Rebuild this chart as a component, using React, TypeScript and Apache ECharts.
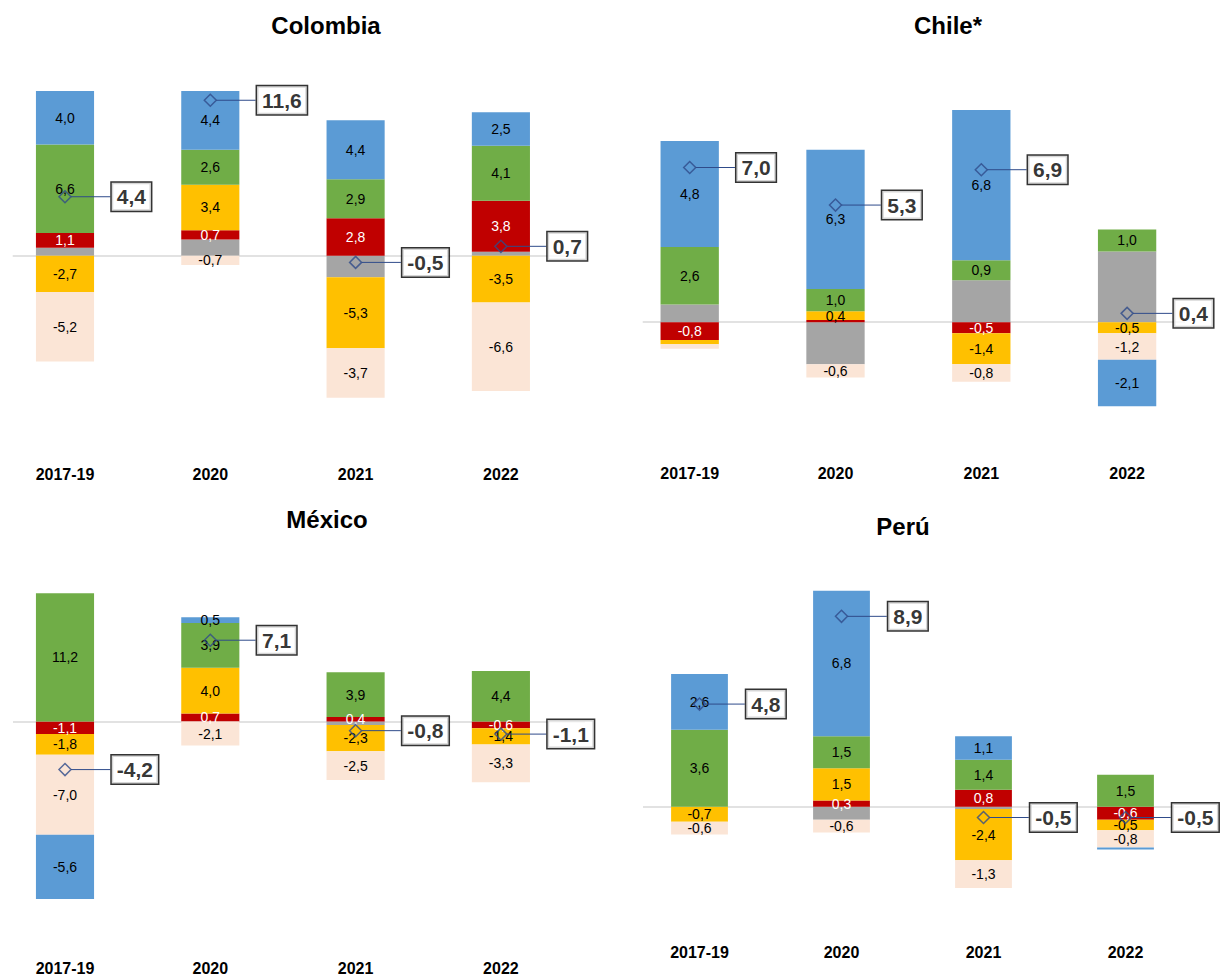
import React, { useEffect, useRef } from "react";
import * as echarts from "echarts";

// ---------- DATA ----------
const categories = ["2017-19", "2020", "2021", "2022"];

// Colombia
const colombiaGray = [0.6, 1.2, -1.6, 0.3];
const colombiaRed = [1.1, 0.7, 2.8, 3.8];
const colombiaYellow = [-2.7, 3.4, -5.3, -3.5];
const colombiaGreen = [6.6, 2.6, 2.9, 4.1];
const colombiaPeach = [-5.2, -0.7, -3.7, -6.6];
const colombiaBlue = [4.0, 4.4, 4.4, 2.5];
const colombiaTotal = [4.4, 11.6, -0.5, 0.7];

// Chile
const chileGray = [0.8, -1.9, 1.9, 3.2];
const chileRed = [-0.8, 0.1, -0.5, 0];
const chileYellow = [-0.2, 0.4, -1.4, -0.5];
const chileGreen = [2.6, 1.0, 0.9, 1.0];
const chilePeach = [-0.2, -0.6, -0.8, -1.2];
const chileBlue = [4.8, 6.3, 6.8, -2.1];
const chileTotal = [7.0, 5.3, 6.9, 0.4];

// México
const mexicoGray = [0, 0, -0.3, 0];
const mexicoRed = [-1.1, 0.7, 0.4, -0.6];
const mexicoYellow = [-1.8, 4.0, -2.3, -1.4];
const mexicoGreen = [11.2, 3.9, 3.9, 4.4];
const mexicoPeach = [-7.0, -2.1, -2.5, -3.3];
const mexicoBlue = [-5.6, 0.5, 0, 0];
const mexicoTotal = [-4.2, 7.1, -0.8, -1.1];

// Perú
const peruGray = [0, -0.6, -0.1, 0];
const peruRed = [0, 0.3, 0.8, -0.6];
const peruYellow = [-0.7, 1.5, -2.4, -0.5];
const peruGreen = [3.6, 1.5, 1.4, 1.5];
const peruPeach = [-0.6, -0.6, -1.3, -0.8];
const peruBlue = [2.6, 6.8, 1.1, -0.1];
const peruTotal = [4.8, 8.9, -0.5, -0.5];

const panelTitles = ["Colombia", "Chile*", "México", "Perú"];

// ---------- STYLE / LAYOUT ----------
const FONT = "'Liberation Sans', Arial, sans-serif";
const COLORS = {
  gray: "#A5A5A5",
  red: "#C00000",
  yellow: "#FFC000",
  green: "#70AD47",
  peach: "#FBE5D6",
  blue: "#5B9BD5",
};
const MARKER = "#2F4B8A";

type Layout = {
  firstCenter: number;
  spacing: number;
  zeroY: number;
  pxPerUnit: number;
  yMin: number;
  yMax: number;
  labelMargin: number;
  lineX0: number;
  lineX1: number;
  titleX: number;
  titleY: number;
};

const layouts: Layout[] = [
  { firstCenter: 65, spacing: 145.3, zeroY: 255.7, pxPerUnit: 13.4, yMin: -15, yMax: 14, labelMargin: 10, lineX0: 12.7, lineX1: 580, titleX: 326, titleY: 25 },
  { firstCenter: 689.7, spacing: 145.8, zeroY: 322.2, pxPerUnit: 22.1, yMin: -6, yMax: 11, labelMargin: 11, lineX0: 642.7, lineX1: 1185, titleX: 948, titleY: 25 },
  { firstCenter: 65, spacing: 145.3, zeroY: 721.5, pxPerUnit: 11.45, yMin: -20, yMax: 12, labelMargin: 10, lineX0: 13, lineX1: 585, titleX: 327, titleY: 519 },
  { firstCenter: 699.5, spacing: 142, zeroY: 806.8, pxPerUnit: 21.4, yMin: -6, yMax: 11, labelMargin: 9, lineX0: 643, lineX1: 1190, titleX: 903, titleY: 526 },
];

const fmt = (v: number) => v.toFixed(1).replace(".", ",");

function buildOption() {
  const panels = [
    { gray: colombiaGray, red: colombiaRed, yellow: colombiaYellow, green: colombiaGreen, peach: colombiaPeach, blue: colombiaBlue, total: colombiaTotal },
    { gray: chileGray, red: chileRed, yellow: chileYellow, green: chileGreen, peach: chilePeach, blue: chileBlue, total: chileTotal },
    { gray: mexicoGray, red: mexicoRed, yellow: mexicoYellow, green: mexicoGreen, peach: mexicoPeach, blue: mexicoBlue, total: mexicoTotal },
    { gray: peruGray, red: peruRed, yellow: peruYellow, green: peruGreen, peach: peruPeach, blue: peruBlue, total: peruTotal },
  ];
  const order: (keyof typeof COLORS)[] = ["gray", "red", "yellow", "green", "peach", "blue"];

  const grid: any[] = [];
  const xAxis: any[] = [];
  const yAxis: any[] = [];
  const series: any[] = [];
  const graphic: any[] = [];

  panels.forEach((p, i) => {
    const L = layouts[i];
    grid.push({
      left: L.firstCenter - L.spacing / 2,
      top: L.zeroY - L.yMax * L.pxPerUnit,
      width: L.spacing * categories.length,
      height: (L.yMax - L.yMin) * L.pxPerUnit,
      containLabel: false,
      outerBoundsMode: "none",
    });
    xAxis.push({
      type: "category",
      gridIndex: i,
      data: categories,
      axisLine: { show: false, onZero: false },
      axisTick: { show: false },
      splitLine: { show: false },
      axisLabel: {
        margin: L.labelMargin,
        fontSize: 16,
        fontWeight: "bold",
        color: "#000",
        fontFamily: FONT,
        interval: 0,
      },
    });
    yAxis.push({
      type: "value",
      gridIndex: i,
      min: L.yMin,
      max: L.yMax,
      show: false,
      splitLine: { show: false },
    });
    order.forEach((key) => {
      series.push({
        type: "bar",
        name: key,
        xAxisIndex: i,
        yAxisIndex: i,
        stack: "s" + i,
        barWidth: "40%",
        data: p[key],
        itemStyle: { color: COLORS[key] },
        label: {
          show: key !== "gray",
          position: "inside",
          fontSize: 14,
          fontFamily: FONT,
          color: key === "red" ? "#fff" : "#000",
          formatter: (prm: any) => (Math.abs(prm.value) >= 0.3 ? fmt(prm.value) : ""),
        },
      });
    });
    series.push({
      type: "scatter",
      name: "total",
      xAxisIndex: i,
      yAxisIndex: i,
      data: p.total,
      symbol: "diamond",
      symbolSize: 12,
      z: 10,
      itemStyle: { color: "rgba(0,0,0,0)", borderColor: MARKER, borderWidth: 1.5 },
      label: {
        show: true,
        position: "right",
        distance: 4,
        formatter: (prm: any) => fmt(prm.value),
        fontSize: 21,
        fontWeight: "bold",
        fontFamily: FONT,
        color: "#000",
        backgroundColor: "#fff",
        borderColor: "#000",
        borderWidth: 1.5,
        padding: [3, 5, 3, 5],
        lineHeight: 22,
      },
      labelLayout: { dx: 36 },
      labelLine: { show: true, lineStyle: { color: MARKER, width: 1 } },
      markLine: {
        silent: true,
        symbol: "none",
        z: 1,
        label: { show: false },
        lineStyle: { color: "#D9D9D9", width: 1.5, type: "solid" },
        data: [[{ x: L.lineX0, yAxis: 0 }, { x: L.lineX1, yAxis: 0 }]],
      },
    });
    graphic.push({
      type: "text",
      x: L.titleX,
      y: L.titleY,
      style: {
        text: panelTitles[i],
        align: "center",
        verticalAlign: "middle",
        font: `bold 24px ${FONT}`,
        fill: "#000",
      },
    });
  });

  return {
    animation: false,
    backgroundColor: "#fff",
    textStyle: { fontFamily: FONT },
    grid,
    xAxis,
    yAxis,
    series,
    graphic,
  };
}

export default function App() {
  const ref = useRef<HTMLDivElement>(null);
  useEffect(() => {
    if (!ref.current) return;
    const chart = echarts.init(ref.current, undefined, { renderer: "svg" });
    chart.setOption(buildOption() as any);
    return () => chart.dispose();
  }, []);
  return (
    <div
      ref={ref}
      style={{ position: "absolute", left: 0, top: 0, width: 1220, height: 977 }}
    />
  );
}
